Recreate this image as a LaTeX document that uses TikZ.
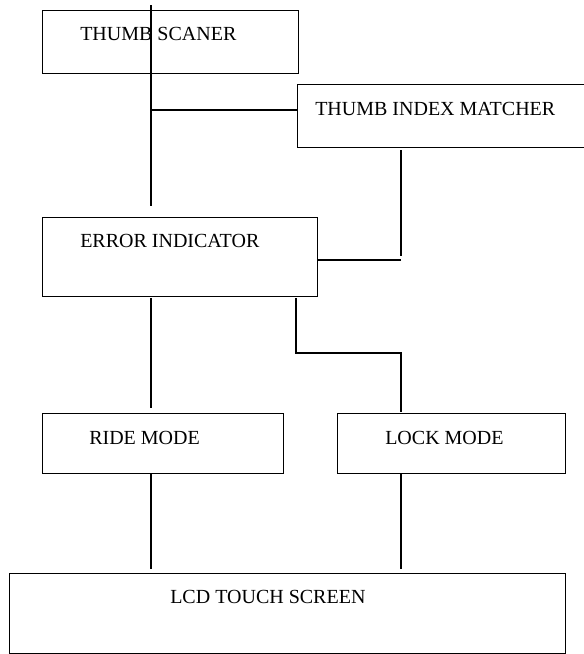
\documentclass[tikz,border=0pt]{standalone}
\usepackage{fontspec}
\setmainfont{Liberation Serif}
\tikzset{
  blk/.style={draw, line width=0.9pt, anchor=north west, inner sep=0pt},
  lbl/.style={anchor=base west, inner sep=0pt, font=\fontsize{15}{18}\selectfont},
  wire/.style={line width=0.9pt}
}
\begin{document}
\begin{tikzpicture}[x=0.75pt,y=-0.75pt]
\useasboundingbox (0,0) rectangle (584,654);
% blocks
\node[blk, minimum width=192pt, minimum height=47.25pt] (ts) at (42,10) {};
\node[blk, minimum width=218pt, minimum height=47.25pt] (tim) at (297,84) {};
\node[blk, minimum width=206.25pt, minimum height=59.25pt] (ei) at (42,217) {};
\node[blk, minimum width=180.75pt, minimum height=45pt] (ride) at (42,413) {};
\node[blk, minimum width=171pt, minimum height=45pt] (lock) at (337,413) {};
\node[blk, minimum width=417pt, minimum height=60pt] (lcd) at (9,573) {};
% labels
\node[lbl] (tstxt) at (80,40.7) {THUMB SCANER};
\node[lbl] (timtxt) at (315,115) {THUMB INDEX MATCHER};
\node[lbl] (eitxt) at (80,247) {ERROR INDICATOR};
\node[lbl] (ridetxt) at (89,444) {RIDE MODE};
\node[lbl] (locktxt) at (385,444) {LOCK MODE};
\node[lbl] (lcdtxt) at (170,603) {LCD TOUCH SCREEN};
% free ends of the wires
\coordinate (tstop) at (151,5);
\coordinate (tsend) at (151,206);
\coordinate (tsjoin) at (151,110);
\coordinate (timout) at (401,150);
\coordinate (timend) at (401,256);
\coordinate (eiin) at (401,260);
\coordinate (eiout) at (151,298);
\coordinate (rideend) at (151,408);
\coordinate (eiout2) at (296,298);
\coordinate (bend1) at (296,353);
\coordinate (bend2) at (401,353);
\coordinate (lockend) at (401,412);
\coordinate (rideout) at (151,474);
\coordinate (lockout) at (401,474);
\coordinate (lcdl) at (151,569);
\coordinate (lcdr) at (401,569);
% wires
\draw[wire] (tstop) -- (tsend);
\draw[wire] (tsjoin) -- (tsjoin -| tim.west);
\draw[wire] (timout) -- (timend);
\draw[wire] (eiin) -- (eiin -| ei.east);
\draw[wire] (eiout) -- (rideend);
\draw[wire] (eiout2) -- (bend1) -- (bend2) -- (lockend);
\draw[wire] (rideout) -- (lcdl);
\draw[wire] (lockout) -- (lcdr);
\end{tikzpicture}
\end{document}
